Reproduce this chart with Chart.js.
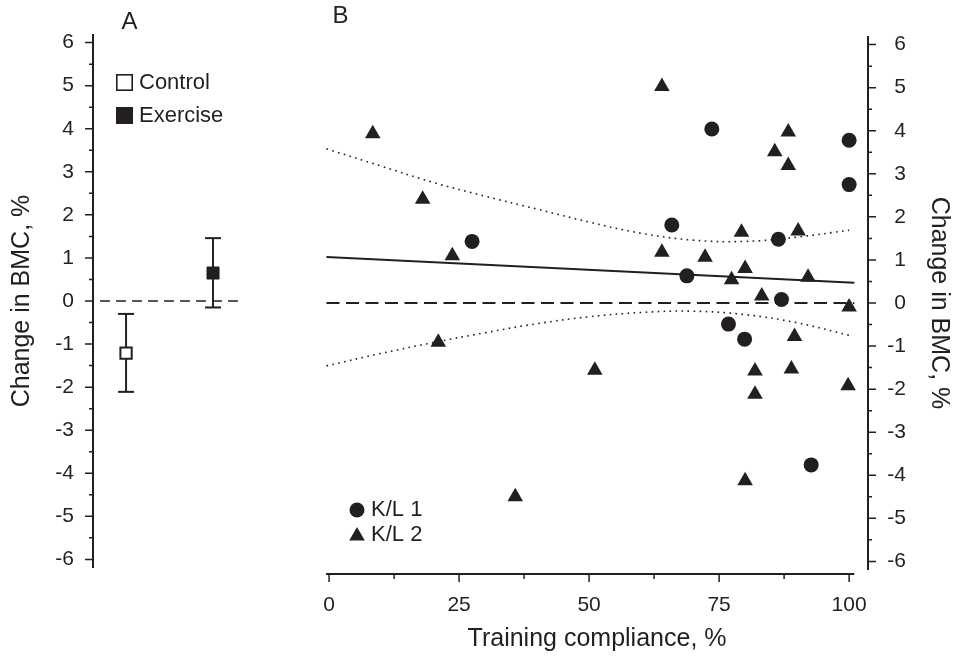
<!DOCTYPE html>
<html>
<head>
<meta charset="utf-8">
<title>Change in BMC</title>
<script src="https://cdn.jsdelivr.net/npm/chart.js@4.4.1/dist/chart.umd.min.js"></script>
<style>
  body { margin: 0; background: #fff; }
  .wrapper { position: relative; width: 954px; height: 656px; }
  #panelA { position: absolute; left: 0; top: 0; }
  #panelB { position: absolute; left: 300px; top: 0; }
</style>
</head>
<body>
<div class="wrapper">
  <canvas id="panelA" width="260" height="656"></canvas>
  <canvas id="panelB" width="654" height="656"></canvas>
</div>
<script>
// A: group means with error bars
const groups = ["Control", "Exercise"];
const groupMean = [-1.21, 0.65];
const groupLow = [-2.11, -0.15];
const groupHigh = [-0.30, 1.46];

// B: change in BMC against training compliance
const kl1Compliance = [27.5, 65.9, 73.6, 68.8, 86.4, 87.0, 100, 100, 76.8, 79.9, 92.7];
const kl1Change = [1.43, 1.81, 4.04, 0.63, 1.48, 0.08, 3.78, 2.75, -0.49, -0.84, -3.76];

const kl2Compliance = [8.4, 18.0, 23.7, 21.0, 35.8, 51.1, 64.0, 88.3, 85.7, 88.3, 79.3, 90.2, 64.0,
  72.3, 80.0, 77.4, 92.1, 83.2, 100, 89.5, 81.9, 88.9, 81.9, 99.8, 80.0];
const kl2Change = [3.93, 2.41, 1.10, -0.91, -4.50, -1.56, 5.03, 3.97, 3.51, 3.19, 1.64, 1.67, 1.18,
  1.06, 0.80, 0.54, 0.60, 0.16, -0.09, -0.78, -1.58, -1.53, -2.12, -1.92, -4.13];

const fitX = [-0.5, 101];
const fitY = [1.07, 0.47];

const bandX = [-0.5, 10, 20, 30, 40, 50, 60, 70, 80, 90, 100];
const bandUpper = [3.58, 3.18, 2.80, 2.48, 2.18, 1.88, 1.62, 1.46, 1.43, 1.53, 1.69];
const bandLower = [-1.46, -1.17, -0.92, -0.69, -0.48, -0.32, -0.22, -0.19, -0.27, -0.46, -0.75];

const zeroLineA = [0.70, 2.31];
const zeroLineB = [-0.5, 101];

const bmcTicks = [-6, -5, -4, -3, -2, -1, 0, 1, 2, 3, 4, 5, 6];
const complianceTicks = [0, 25, 50, 75, 100];

const ink = "#231f20";
const fontFamily = "'Liberation Sans', Arial, Helvetica, sans-serif";

Chart.defaults.font.family = fontFamily;
Chart.defaults.color = ink;

const $panelA = document.querySelector("#panelA");
const $panelB = document.querySelector("#panelB");

function toPoints(xs, ys)
{
  return xs.map((x, i) => ({ x: x, y: ys[i] }));
}

// major ticks on the tick values, short ones half way between
function drawTicks(ctx, scale, horizontal, base, dir, majorLen, minorLen)
{
  let values = scale.ticks.map(t => t.value);
  ctx.lineWidth = 1.5;
  ctx.beginPath();
  let add = function (v, len)
  {
    let p = scale.getPixelForValue(v);
    if (horizontal)
    {
      ctx.moveTo(p, base);
      ctx.lineTo(p, base + dir * len);
    }
    else
    {
      ctx.moveTo(base, p);
      ctx.lineTo(base + dir * len, p);
    }
  };
  for (let i = 0; i < values.length; i++)
  {
    add(values[i], majorLen);
    if (i < values.length - 1)
    {
      add((values[i] + values[i + 1]) / 2, minorLen);
    }
  }
  ctx.stroke();
}

function drawTriangle(ctx, x, y, r)
{
  ctx.beginPath();
  ctx.moveTo(x, y - r);
  ctx.lineTo(x + 0.866 * r, y + 0.5 * r);
  ctx.lineTo(x - 0.866 * r, y + 0.5 * r);
  ctx.closePath();
  ctx.fill();
}

const axesA = {
  id: "axesA",
  afterDraw(chart)
  {
    let ctx = chart.ctx;
    let area = chart.chartArea;
    ctx.save();
    ctx.strokeStyle = ink;
    ctx.fillStyle = ink;

    ctx.lineWidth = 2;
    ctx.beginPath();
    ctx.moveTo(area.left, area.top);
    ctx.lineTo(area.left, area.bottom);
    ctx.stroke();
    drawTicks(ctx, chart.scales.y, false, area.left, -1, 8, 4);

    // legend
    ctx.lineWidth = 1.6;
    ctx.fillStyle = "#fff";
    ctx.fillRect(116, 74, 17, 17);
    ctx.strokeRect(116.8, 74.8, 15.4, 15.4);
    ctx.fillStyle = ink;
    ctx.fillRect(116, 107, 17, 17);

    ctx.font = "22px " + fontFamily;
    ctx.textBaseline = "middle";
    ctx.textAlign = "left";
    ctx.fillText(groups[0], 139, 83);
    ctx.fillText(groups[1], 139, 116);

    ctx.font = "24px " + fontFamily;
    ctx.textAlign = "center";
    ctx.fillText("A", 129.5, 22.5);
    ctx.restore();
  }
};

const axesB = {
  id: "axesB",
  afterDraw(chart)
  {
    let ctx = chart.ctx;
    let area = chart.chartArea;
    let x = chart.scales.x;
    let xLine = area.bottom + 4;
    ctx.save();
    ctx.strokeStyle = ink;
    ctx.fillStyle = ink;

    ctx.lineWidth = 2;
    ctx.beginPath();
    ctx.moveTo(area.right, area.top);
    ctx.lineTo(area.right, area.bottom);
    ctx.moveTo(area.left, xLine);
    ctx.lineTo(x.getPixelForValue(101), xLine);
    ctx.stroke();
    drawTicks(ctx, chart.scales.y, false, area.right, 1, 8, 4);
    drawTicks(ctx, x, true, xLine, 1, 8, 5);

    // legend
    ctx.beginPath();
    ctx.arc(57, 510, 7.5, 0, Math.PI * 2);
    ctx.fill();
    drawTriangle(ctx, 57, 536, 9);

    ctx.font = "22px " + fontFamily;
    ctx.textBaseline = "middle";
    ctx.textAlign = "left";
    ctx.fillText(chart.data.datasets[0].label, 71, 510);
    ctx.fillText(chart.data.datasets[1].label, 71, 535);

    ctx.font = "24px " + fontFamily;
    ctx.textAlign = "center";
    ctx.fillText("B", 40.5, 16);
    ctx.restore();
  }
};

let ChartA = new Chart($panelA, {
  type: "scatter",
  data: {
    datasets: [
      {
        label: groups[0],
        data: [{ x: 1, y: groupMean[0] }],
        pointStyle: "rect",
        pointRadius: 8,
        pointBackgroundColor: "#fff",
        pointBorderColor: ink,
        pointBorderWidth: 2
      },
      {
        label: groups[1],
        data: [{ x: 2, y: groupMean[1] }],
        pointStyle: "rect",
        pointRadius: 8.5,
        pointBackgroundColor: ink,
        pointBorderColor: ink,
        pointBorderWidth: 1
      },
      {
        type: "line",
        data: [{ x: 1, y: groupLow[0] }, { x: 1, y: groupHigh[0] }],
        borderColor: ink,
        borderWidth: 2,
        pointStyle: "line",
        pointRadius: 8,
        pointBorderColor: ink,
        pointBorderWidth: 2
      },
      {
        type: "line",
        data: [{ x: 2, y: groupLow[1] }, { x: 2, y: groupHigh[1] }],
        borderColor: ink,
        borderWidth: 2,
        pointStyle: "line",
        pointRadius: 8,
        pointBorderColor: ink,
        pointBorderWidth: 2
      },
      {
        type: "line",
        data: zeroLineA.map(v => ({ x: v, y: 0 })),
        borderColor: ink,
        borderWidth: 1.3,
        borderDash: [10, 6],
        pointRadius: 0
      }
    ]
  },
  options: {
    responsive: false,
    animation: false,
    events: [],
    clip: false,
    layout: { autoPadding: false, padding: { top: 34, bottom: 88, left: 0, right: 0 } },
    plugins: { legend: { display: false }, tooltip: { enabled: false } },
    scales: {
      x: { type: "linear", display: false, min: 0.62, max: 2.54 },
      y: {
        min: -6.2,
        max: 6.2,
        afterBuildTicks: s => { s.ticks = bmcTicks.map(v => ({ value: v })); },
        afterFit: s => { s.width = 93; },
        grid: { display: false, drawTicks: false },
        border: { display: false },
        ticks: { padding: 19, font: { size: 21 }, color: ink },
        title: {
          display: true,
          text: "Change in BMC, %",
          font: { size: 25 },
          color: ink,
          padding: { top: 7.3, bottom: 0 }
        }
      }
    }
  },
  plugins: [axesA]
});

let ChartB = new Chart($panelB, {
  type: "scatter",
  data: {
    datasets: [
      {
        label: "K/L 1",
        data: toPoints(kl1Compliance, kl1Change),
        pointStyle: "circle",
        pointRadius: 7.5,
        pointBackgroundColor: ink,
        pointBorderWidth: 0
      },
      {
        label: "K/L 2",
        data: toPoints(kl2Compliance, kl2Change),
        pointStyle: "triangle",
        pointRadius: 9,
        pointBackgroundColor: ink,
        pointBorderWidth: 0
      },
      {
        type: "line",
        data: toPoints(fitX, fitY),
        borderColor: ink,
        borderWidth: 2,
        pointRadius: 0
      },
      {
        type: "line",
        data: zeroLineB.map(v => ({ x: v, y: 0 })),
        borderColor: ink,
        borderWidth: 2.2,
        borderDash: [13, 6.5],
        pointRadius: 0
      },
      {
        type: "line",
        data: toPoints(bandX, bandUpper),
        borderColor: ink,
        borderWidth: 1.6,
        borderDash: [1.6, 4.4],
        tension: 0.4,
        pointRadius: 0
      },
      {
        type: "line",
        data: toPoints(bandX, bandLower),
        borderColor: ink,
        borderWidth: 1.6,
        borderDash: [1.6, 4.4],
        tension: 0.4,
        pointRadius: 0
      }
    ]
  },
  options: {
    responsive: false,
    animation: false,
    events: [],
    clip: false,
    layout: { autoPadding: false, padding: { top: 36, left: 23, right: 48, bottom: 0 } },
    plugins: { legend: { display: false }, tooltip: { enabled: false } },
    scales: {
      x: {
        type: "linear",
        position: "bottom",
        min: -0.574,
        max: 103.63,
        afterBuildTicks: s => { s.ticks = complianceTicks.map(v => ({ value: v })); },
        afterFit: s => { s.height = 86; },
        grid: { display: false, drawTicks: false },
        border: { display: false },
        ticks: { padding: 23.1, font: { size: 21 }, color: ink, maxRotation: 0 },
        title: {
          display: true,
          text: "Training compliance, %",
          font: { size: 25 },
          color: ink,
          padding: { top: 0, bottom: 1.7 }
        }
      },
      y: {
        position: "right",
        min: -6.2,
        max: 6.2,
        afterBuildTicks: s => { s.ticks = bmcTicks.map(v => ({ value: v })); },
        afterFit: s => { s.width = 38; },
        grid: { display: false, drawTicks: false },
        border: { display: false },
        ticks: { padding: 19.3, crossAlign: "far", font: { size: 21 }, color: ink },
        title: {
          display: true,
          text: "Change in BMC, %",
          font: { size: 25 },
          color: ink,
          padding: { top: -47.7, bottom: 0 }
        }
      }
    }
  },
  plugins: [axesB]
});
</script>
</body>
</html>
